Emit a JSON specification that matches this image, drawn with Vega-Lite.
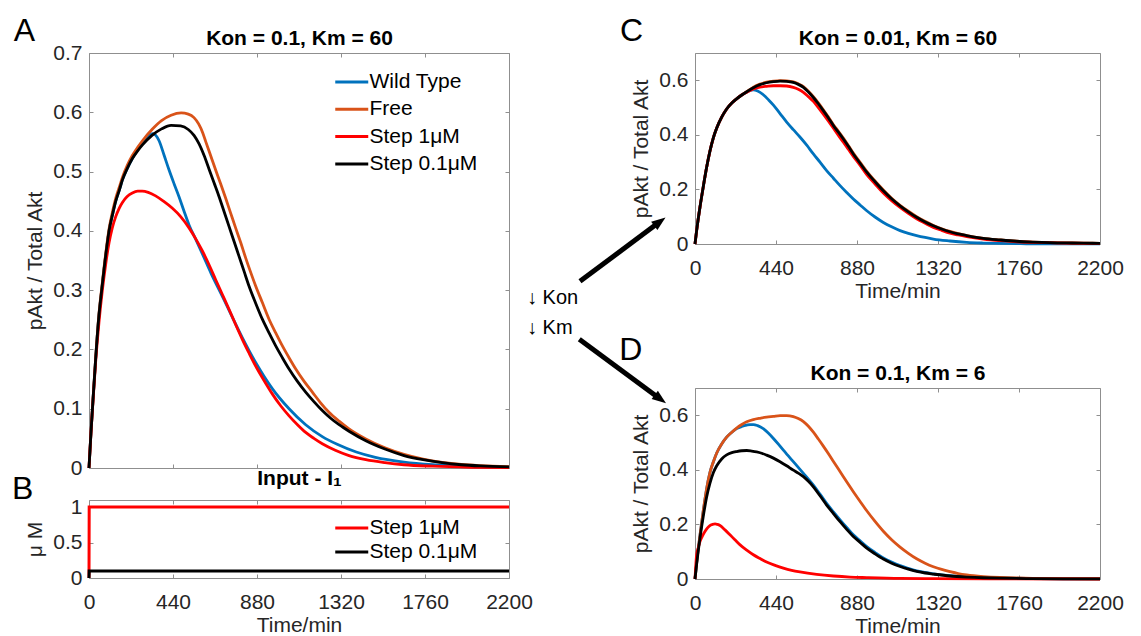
{
"$schema": "https://vega.github.io/schema/vega-lite/v6.json",
"background": "white",
"padding": {"left": 11, "top": 14, "right": 0, "bottom": 0},
"datasets": {
"A": [
{"s":"Wild Type","t":0,"v":0},{"s":"Wild Type","t":10,"v":0.058},{"s":"Wild Type","t":20,"v":0.11},{"s":"Wild Type","t":35,"v":0.185},{"s":"Wild Type","t":50,"v":0.25},{"s":"Wild Type","t":70,"v":0.31},{"s":"Wild Type","t":90,"v":0.365},{"s":"Wild Type","t":105,"v":0.4},{"s":"Wild Type","t":125,"v":0.43},{"s":"Wild Type","t":140,"v":0.45},{"s":"Wild Type","t":160,"v":0.47},{"s":"Wild Type","t":175,"v":0.486},{"s":"Wild Type","t":200,"v":0.505},{"s":"Wild Type","t":227,"v":0.522},{"s":"Wild Type","t":255,"v":0.537},{"s":"Wild Type","t":280,"v":0.548},{"s":"Wild Type","t":300,"v":0.556},{"s":"Wild Type","t":320,"v":0.562},{"s":"Wild Type","t":335,"v":0.564},{"s":"Wild Type","t":350,"v":0.561},{"s":"Wild Type","t":367,"v":0.552},{"s":"Wild Type","t":393,"v":0.528},{"s":"Wild Type","t":419,"v":0.503},{"s":"Wild Type","t":445,"v":0.48},{"s":"Wild Type","t":471,"v":0.458},{"s":"Wild Type","t":497,"v":0.434},{"s":"Wild Type","t":524,"v":0.41},{"s":"Wild Type","t":560,"v":0.385},{"s":"Wild Type","t":594,"v":0.361},{"s":"Wild Type","t":640,"v":0.328},{"s":"Wild Type","t":698,"v":0.29},{"s":"Wild Type","t":750,"v":0.255},{"s":"Wild Type","t":803,"v":0.22},{"s":"Wild Type","t":873,"v":0.178},{"s":"Wild Type","t":960,"v":0.134},{"s":"Wild Type","t":1048,"v":0.1},{"s":"Wild Type","t":1135,"v":0.073},{"s":"Wild Type","t":1222,"v":0.053},{"s":"Wild Type","t":1300,"v":0.04},{"s":"Wild Type","t":1400,"v":0.027},{"s":"Wild Type","t":1500,"v":0.018},{"s":"Wild Type","t":1650,"v":0.01},{"s":"Wild Type","t":1800,"v":0.0055},{"s":"Wild Type","t":2000,"v":0.0025},{"s":"Wild Type","t":2200,"v":0.001},
{"s":"Free","t":0,"v":0},{"s":"Free","t":10,"v":0.058},{"s":"Free","t":20,"v":0.11},{"s":"Free","t":35,"v":0.186},{"s":"Free","t":50,"v":0.252},{"s":"Free","t":70,"v":0.313},{"s":"Free","t":90,"v":0.368},{"s":"Free","t":105,"v":0.403},{"s":"Free","t":125,"v":0.435},{"s":"Free","t":140,"v":0.455},{"s":"Free","t":160,"v":0.475},{"s":"Free","t":175,"v":0.49},{"s":"Free","t":200,"v":0.51},{"s":"Free","t":227,"v":0.527},{"s":"Free","t":255,"v":0.541},{"s":"Free","t":280,"v":0.552},{"s":"Free","t":330,"v":0.571},{"s":"Free","t":380,"v":0.586},{"s":"Free","t":430,"v":0.595},{"s":"Free","t":483,"v":0.599},{"s":"Free","t":520,"v":0.597},{"s":"Free","t":550,"v":0.591},{"s":"Free","t":575,"v":0.58},{"s":"Free","t":595,"v":0.566},{"s":"Free","t":611,"v":0.551},{"s":"Free","t":637,"v":0.527},{"s":"Free","t":663,"v":0.503},{"s":"Free","t":690,"v":0.479},{"s":"Free","t":716,"v":0.455},{"s":"Free","t":742,"v":0.43},{"s":"Free","t":768,"v":0.405},{"s":"Free","t":795,"v":0.38},{"s":"Free","t":821,"v":0.354},{"s":"Free","t":847,"v":0.33},{"s":"Free","t":873,"v":0.307},{"s":"Free","t":908,"v":0.279},{"s":"Free","t":943,"v":0.251},{"s":"Free","t":978,"v":0.228},{"s":"Free","t":1013,"v":0.206},{"s":"Free","t":1048,"v":0.186},{"s":"Free","t":1083,"v":0.167},{"s":"Free","t":1125,"v":0.147},{"s":"Free","t":1170,"v":0.128},{"s":"Free","t":1213,"v":0.11},{"s":"Free","t":1257,"v":0.094},{"s":"Free","t":1310,"v":0.079},{"s":"Free","t":1362,"v":0.066},{"s":"Free","t":1450,"v":0.049},{"s":"Free","t":1550,"v":0.034},{"s":"Free","t":1650,"v":0.023},{"s":"Free","t":1750,"v":0.015},{"s":"Free","t":1850,"v":0.0095},{"s":"Free","t":1950,"v":0.006},{"s":"Free","t":2050,"v":0.004},{"s":"Free","t":2200,"v":0.0022},
{"s":"Step 1μM","t":0,"v":0},{"s":"Step 1μM","t":10,"v":0.058},{"s":"Step 1μM","t":20,"v":0.108},{"s":"Step 1μM","t":35,"v":0.18},{"s":"Step 1μM","t":52,"v":0.245},{"s":"Step 1μM","t":70,"v":0.3},{"s":"Step 1μM","t":88,"v":0.345},{"s":"Step 1μM","t":105,"v":0.38},{"s":"Step 1μM","t":122,"v":0.405},{"s":"Step 1μM","t":140,"v":0.424},{"s":"Step 1μM","t":158,"v":0.438},{"s":"Step 1μM","t":175,"v":0.448},{"s":"Step 1μM","t":200,"v":0.458},{"s":"Step 1μM","t":227,"v":0.464},{"s":"Step 1μM","t":255,"v":0.467},{"s":"Step 1μM","t":279,"v":0.467},{"s":"Step 1μM","t":310,"v":0.465},{"s":"Step 1μM","t":349,"v":0.459},{"s":"Step 1μM","t":390,"v":0.45},{"s":"Step 1μM","t":437,"v":0.438},{"s":"Step 1μM","t":480,"v":0.424},{"s":"Step 1μM","t":524,"v":0.405},{"s":"Step 1μM","t":560,"v":0.386},{"s":"Step 1μM","t":594,"v":0.366},{"s":"Step 1μM","t":630,"v":0.342},{"s":"Step 1μM","t":663,"v":0.318},{"s":"Step 1μM","t":698,"v":0.293},{"s":"Step 1μM","t":733,"v":0.268},{"s":"Step 1μM","t":768,"v":0.242},{"s":"Step 1μM","t":803,"v":0.217},{"s":"Step 1μM","t":838,"v":0.194},{"s":"Step 1μM","t":873,"v":0.172},{"s":"Step 1μM","t":916,"v":0.148},{"s":"Step 1μM","t":960,"v":0.125},{"s":"Step 1μM","t":1004,"v":0.105},{"s":"Step 1μM","t":1048,"v":0.088},{"s":"Step 1μM","t":1092,"v":0.073},{"s":"Step 1μM","t":1135,"v":0.06},{"s":"Step 1μM","t":1178,"v":0.05},{"s":"Step 1μM","t":1222,"v":0.041},{"s":"Step 1μM","t":1290,"v":0.03},{"s":"Step 1μM","t":1362,"v":0.021},{"s":"Step 1μM","t":1450,"v":0.014},{"s":"Step 1μM","t":1550,"v":0.009},{"s":"Step 1μM","t":1650,"v":0.0055},{"s":"Step 1μM","t":1800,"v":0.003},{"s":"Step 1μM","t":2000,"v":0.0012},{"s":"Step 1μM","t":2200,"v":0.0005},
{"s":"Step 0.1μM","t":0,"v":0},{"s":"Step 0.1μM","t":10,"v":0.058},{"s":"Step 0.1μM","t":20,"v":0.11},{"s":"Step 0.1μM","t":35,"v":0.185},{"s":"Step 0.1μM","t":50,"v":0.25},{"s":"Step 0.1μM","t":70,"v":0.31},{"s":"Step 0.1μM","t":90,"v":0.365},{"s":"Step 0.1μM","t":105,"v":0.4},{"s":"Step 0.1μM","t":125,"v":0.43},{"s":"Step 0.1μM","t":140,"v":0.45},{"s":"Step 0.1μM","t":160,"v":0.47},{"s":"Step 0.1μM","t":175,"v":0.486},{"s":"Step 0.1μM","t":200,"v":0.505},{"s":"Step 0.1μM","t":227,"v":0.522},{"s":"Step 0.1μM","t":255,"v":0.535},{"s":"Step 0.1μM","t":280,"v":0.545},{"s":"Step 0.1μM","t":330,"v":0.561},{"s":"Step 0.1μM","t":380,"v":0.572},{"s":"Step 0.1μM","t":430,"v":0.578},{"s":"Step 0.1μM","t":480,"v":0.577},{"s":"Step 0.1μM","t":520,"v":0.571},{"s":"Step 0.1μM","t":550,"v":0.561},{"s":"Step 0.1μM","t":576,"v":0.547},{"s":"Step 0.1μM","t":603,"v":0.527},{"s":"Step 0.1μM","t":629,"v":0.504},{"s":"Step 0.1μM","t":655,"v":0.481},{"s":"Step 0.1μM","t":681,"v":0.458},{"s":"Step 0.1μM","t":707,"v":0.433},{"s":"Step 0.1μM","t":733,"v":0.408},{"s":"Step 0.1μM","t":760,"v":0.382},{"s":"Step 0.1μM","t":786,"v":0.357},{"s":"Step 0.1μM","t":812,"v":0.332},{"s":"Step 0.1μM","t":838,"v":0.307},{"s":"Step 0.1μM","t":873,"v":0.278},{"s":"Step 0.1μM","t":908,"v":0.251},{"s":"Step 0.1μM","t":943,"v":0.228},{"s":"Step 0.1μM","t":978,"v":0.206},{"s":"Step 0.1μM","t":1013,"v":0.186},{"s":"Step 0.1μM","t":1048,"v":0.167},{"s":"Step 0.1μM","t":1090,"v":0.147},{"s":"Step 0.1μM","t":1135,"v":0.128},{"s":"Step 0.1μM","t":1178,"v":0.112},{"s":"Step 0.1μM","t":1222,"v":0.097},{"s":"Step 0.1μM","t":1266,"v":0.084},{"s":"Step 0.1μM","t":1310,"v":0.073},{"s":"Step 0.1μM","t":1362,"v":0.062},{"s":"Step 0.1μM","t":1450,"v":0.046},{"s":"Step 0.1μM","t":1550,"v":0.032},{"s":"Step 0.1μM","t":1650,"v":0.021},{"s":"Step 0.1μM","t":1750,"v":0.014},{"s":"Step 0.1μM","t":1850,"v":0.009},{"s":"Step 0.1μM","t":1950,"v":0.0055},{"s":"Step 0.1μM","t":2050,"v":0.0035},{"s":"Step 0.1μM","t":2200,"v":0.002}
],
"B": [
{"s":"Step 1μM","t":0,"v":0},{"s":"Step 1μM","t":1,"v":1},{"s":"Step 1μM","t":2200,"v":1},
{"s":"Step 0.1μM","t":0,"v":0},{"s":"Step 0.1μM","t":1,"v":0.1},{"s":"Step 0.1μM","t":2200,"v":0.1}
],
"C": [
{"s":"Wild Type","t":0,"v":0},{"s":"Wild Type","t":9,"v":0.05},{"s":"Wild Type","t":27,"v":0.135},{"s":"Wild Type","t":45,"v":0.21},{"s":"Wild Type","t":63,"v":0.28},{"s":"Wild Type","t":81,"v":0.34},{"s":"Wild Type","t":100,"v":0.39},{"s":"Wild Type","t":118,"v":0.425},{"s":"Wild Type","t":145,"v":0.465},{"s":"Wild Type","t":172,"v":0.495},{"s":"Wild Type","t":200,"v":0.517},{"s":"Wild Type","t":226,"v":0.532},{"s":"Wild Type","t":254,"v":0.546},{"s":"Wild Type","t":281,"v":0.557},{"s":"Wild Type","t":300,"v":0.563},{"s":"Wild Type","t":317,"v":0.565},{"s":"Wild Type","t":340,"v":0.561},{"s":"Wild Type","t":371,"v":0.547},{"s":"Wild Type","t":400,"v":0.528},{"s":"Wild Type","t":426,"v":0.509},{"s":"Wild Type","t":462,"v":0.478},{"s":"Wild Type","t":498,"v":0.447},{"s":"Wild Type","t":534,"v":0.419},{"s":"Wild Type","t":570,"v":0.392},{"s":"Wild Type","t":607,"v":0.362},{"s":"Wild Type","t":643,"v":0.33},{"s":"Wild Type","t":679,"v":0.3},{"s":"Wild Type","t":715,"v":0.269},{"s":"Wild Type","t":752,"v":0.241},{"s":"Wild Type","t":788,"v":0.214},{"s":"Wild Type","t":824,"v":0.189},{"s":"Wild Type","t":860,"v":0.165},{"s":"Wild Type","t":897,"v":0.143},{"s":"Wild Type","t":933,"v":0.122},{"s":"Wild Type","t":978,"v":0.099},{"s":"Wild Type","t":1023,"v":0.079},{"s":"Wild Type","t":1068,"v":0.063},{"s":"Wild Type","t":1114,"v":0.049},{"s":"Wild Type","t":1159,"v":0.039},{"s":"Wild Type","t":1204,"v":0.031},{"s":"Wild Type","t":1250,"v":0.024},{"s":"Wild Type","t":1295,"v":0.018},{"s":"Wild Type","t":1385,"v":0.011},{"s":"Wild Type","t":1476,"v":0.006},{"s":"Wild Type","t":1566,"v":0.0035},{"s":"Wild Type","t":1657,"v":0.002},{"s":"Wild Type","t":1800,"v":0.001},{"s":"Wild Type","t":2000,"v":0.0004},{"s":"Wild Type","t":2200,"v":0.0002},
{"s":"Free","t":0,"v":0},{"s":"Free","t":9,"v":0.05},{"s":"Free","t":27,"v":0.135},{"s":"Free","t":45,"v":0.21},{"s":"Free","t":63,"v":0.28},{"s":"Free","t":81,"v":0.34},{"s":"Free","t":100,"v":0.39},{"s":"Free","t":118,"v":0.425},{"s":"Free","t":145,"v":0.465},{"s":"Free","t":172,"v":0.495},{"s":"Free","t":200,"v":0.517},{"s":"Free","t":226,"v":0.532},{"s":"Free","t":254,"v":0.546},{"s":"Free","t":281,"v":0.558},{"s":"Free","t":317,"v":0.575},{"s":"Free","t":353,"v":0.586},{"s":"Free","t":389,"v":0.593},{"s":"Free","t":426,"v":0.597},{"s":"Free","t":462,"v":0.599},{"s":"Free","t":498,"v":0.598},{"s":"Free","t":534,"v":0.594},{"s":"Free","t":561,"v":0.587},{"s":"Free","t":589,"v":0.577},{"s":"Free","t":616,"v":0.56},{"s":"Free","t":643,"v":0.54},{"s":"Free","t":670,"v":0.517},{"s":"Free","t":697,"v":0.492},{"s":"Free","t":725,"v":0.465},{"s":"Free","t":752,"v":0.437},{"s":"Free","t":779,"v":0.413},{"s":"Free","t":806,"v":0.388},{"s":"Free","t":833,"v":0.361},{"s":"Free","t":860,"v":0.333},{"s":"Free","t":897,"v":0.299},{"s":"Free","t":933,"v":0.266},{"s":"Free","t":978,"v":0.231},{"s":"Free","t":1023,"v":0.198},{"s":"Free","t":1068,"v":0.168},{"s":"Free","t":1114,"v":0.142},{"s":"Free","t":1159,"v":0.12},{"s":"Free","t":1204,"v":0.1},{"s":"Free","t":1250,"v":0.083},{"s":"Free","t":1295,"v":0.068},{"s":"Free","t":1340,"v":0.056},{"s":"Free","t":1385,"v":0.046},{"s":"Free","t":1430,"v":0.038},{"s":"Free","t":1476,"v":0.031},{"s":"Free","t":1566,"v":0.021},{"s":"Free","t":1657,"v":0.015},{"s":"Free","t":1747,"v":0.01},{"s":"Free","t":1838,"v":0.007},{"s":"Free","t":1928,"v":0.005},{"s":"Free","t":2019,"v":0.004},{"s":"Free","t":2110,"v":0.003},{"s":"Free","t":2200,"v":0.0025},
{"s":"Step 1μM","t":0,"v":0},{"s":"Step 1μM","t":9,"v":0.05},{"s":"Step 1μM","t":27,"v":0.135},{"s":"Step 1μM","t":45,"v":0.21},{"s":"Step 1μM","t":63,"v":0.28},{"s":"Step 1μM","t":81,"v":0.34},{"s":"Step 1μM","t":100,"v":0.39},{"s":"Step 1μM","t":118,"v":0.425},{"s":"Step 1μM","t":145,"v":0.465},{"s":"Step 1μM","t":172,"v":0.495},{"s":"Step 1μM","t":200,"v":0.517},{"s":"Step 1μM","t":226,"v":0.532},{"s":"Step 1μM","t":254,"v":0.546},{"s":"Step 1μM","t":281,"v":0.556},{"s":"Step 1μM","t":317,"v":0.568},{"s":"Step 1μM","t":353,"v":0.575},{"s":"Step 1μM","t":389,"v":0.578},{"s":"Step 1μM","t":426,"v":0.58},{"s":"Step 1μM","t":462,"v":0.58},{"s":"Step 1μM","t":498,"v":0.579},{"s":"Step 1μM","t":534,"v":0.574},{"s":"Step 1μM","t":561,"v":0.567},{"s":"Step 1μM","t":589,"v":0.556},{"s":"Step 1μM","t":616,"v":0.54},{"s":"Step 1μM","t":643,"v":0.523},{"s":"Step 1μM","t":670,"v":0.5},{"s":"Step 1μM","t":697,"v":0.476},{"s":"Step 1μM","t":725,"v":0.45},{"s":"Step 1μM","t":752,"v":0.424},{"s":"Step 1μM","t":779,"v":0.398},{"s":"Step 1μM","t":806,"v":0.373},{"s":"Step 1μM","t":833,"v":0.347},{"s":"Step 1μM","t":860,"v":0.321},{"s":"Step 1μM","t":897,"v":0.288},{"s":"Step 1μM","t":933,"v":0.254},{"s":"Step 1μM","t":978,"v":0.22},{"s":"Step 1μM","t":1023,"v":0.187},{"s":"Step 1μM","t":1068,"v":0.159},{"s":"Step 1μM","t":1114,"v":0.134},{"s":"Step 1μM","t":1159,"v":0.112},{"s":"Step 1μM","t":1204,"v":0.092},{"s":"Step 1μM","t":1250,"v":0.076},{"s":"Step 1μM","t":1295,"v":0.061},{"s":"Step 1μM","t":1340,"v":0.05},{"s":"Step 1μM","t":1385,"v":0.04},{"s":"Step 1μM","t":1430,"v":0.033},{"s":"Step 1μM","t":1476,"v":0.027},{"s":"Step 1μM","t":1566,"v":0.018},{"s":"Step 1μM","t":1657,"v":0.012},{"s":"Step 1μM","t":1747,"v":0.008},{"s":"Step 1μM","t":1838,"v":0.006},{"s":"Step 1μM","t":2019,"v":0.003},{"s":"Step 1μM","t":2200,"v":0.0015},
{"s":"Step 0.1μM","t":0,"v":0},{"s":"Step 0.1μM","t":9,"v":0.05},{"s":"Step 0.1μM","t":27,"v":0.135},{"s":"Step 0.1μM","t":45,"v":0.21},{"s":"Step 0.1μM","t":63,"v":0.28},{"s":"Step 0.1μM","t":81,"v":0.34},{"s":"Step 0.1μM","t":100,"v":0.39},{"s":"Step 0.1μM","t":118,"v":0.425},{"s":"Step 0.1μM","t":145,"v":0.465},{"s":"Step 0.1μM","t":172,"v":0.495},{"s":"Step 0.1μM","t":200,"v":0.517},{"s":"Step 0.1μM","t":226,"v":0.532},{"s":"Step 0.1μM","t":254,"v":0.546},{"s":"Step 0.1μM","t":281,"v":0.558},{"s":"Step 0.1μM","t":317,"v":0.573},{"s":"Step 0.1μM","t":353,"v":0.584},{"s":"Step 0.1μM","t":389,"v":0.591},{"s":"Step 0.1μM","t":426,"v":0.595},{"s":"Step 0.1μM","t":462,"v":0.597},{"s":"Step 0.1μM","t":498,"v":0.596},{"s":"Step 0.1μM","t":534,"v":0.592},{"s":"Step 0.1μM","t":561,"v":0.585},{"s":"Step 0.1μM","t":589,"v":0.574},{"s":"Step 0.1μM","t":616,"v":0.557},{"s":"Step 0.1μM","t":643,"v":0.537},{"s":"Step 0.1μM","t":670,"v":0.514},{"s":"Step 0.1μM","t":697,"v":0.489},{"s":"Step 0.1μM","t":725,"v":0.462},{"s":"Step 0.1μM","t":752,"v":0.434},{"s":"Step 0.1μM","t":779,"v":0.41},{"s":"Step 0.1μM","t":806,"v":0.385},{"s":"Step 0.1μM","t":833,"v":0.358},{"s":"Step 0.1μM","t":860,"v":0.33},{"s":"Step 0.1μM","t":897,"v":0.296},{"s":"Step 0.1μM","t":933,"v":0.263},{"s":"Step 0.1μM","t":978,"v":0.228},{"s":"Step 0.1μM","t":1023,"v":0.195},{"s":"Step 0.1μM","t":1068,"v":0.166},{"s":"Step 0.1μM","t":1114,"v":0.14},{"s":"Step 0.1μM","t":1159,"v":0.118},{"s":"Step 0.1μM","t":1204,"v":0.098},{"s":"Step 0.1μM","t":1250,"v":0.081},{"s":"Step 0.1μM","t":1295,"v":0.067},{"s":"Step 0.1μM","t":1340,"v":0.055},{"s":"Step 0.1μM","t":1385,"v":0.045},{"s":"Step 0.1μM","t":1430,"v":0.037},{"s":"Step 0.1μM","t":1476,"v":0.031},{"s":"Step 0.1μM","t":1566,"v":0.021},{"s":"Step 0.1μM","t":1657,"v":0.015},{"s":"Step 0.1μM","t":1747,"v":0.01},{"s":"Step 0.1μM","t":1838,"v":0.007},{"s":"Step 0.1μM","t":1928,"v":0.005},{"s":"Step 0.1μM","t":2019,"v":0.004},{"s":"Step 0.1μM","t":2110,"v":0.003},{"s":"Step 0.1μM","t":2200,"v":0.0025}
],
"D": [
{"s":"Wild Type","t":0,"v":0},{"s":"Wild Type","t":9,"v":0.06},{"s":"Wild Type","t":27,"v":0.16},{"s":"Wild Type","t":45,"v":0.25},{"s":"Wild Type","t":63,"v":0.33},{"s":"Wild Type","t":81,"v":0.39},{"s":"Wild Type","t":100,"v":0.43},{"s":"Wild Type","t":118,"v":0.462},{"s":"Wild Type","t":145,"v":0.495},{"s":"Wild Type","t":172,"v":0.52},{"s":"Wild Type","t":200,"v":0.538},{"s":"Wild Type","t":226,"v":0.551},{"s":"Wild Type","t":254,"v":0.559},{"s":"Wild Type","t":281,"v":0.564},{"s":"Wild Type","t":300,"v":0.566},{"s":"Wild Type","t":317,"v":0.566},{"s":"Wild Type","t":340,"v":0.562},{"s":"Wild Type","t":371,"v":0.551},{"s":"Wild Type","t":398,"v":0.535},{"s":"Wild Type","t":426,"v":0.515},{"s":"Wild Type","t":453,"v":0.494},{"s":"Wild Type","t":480,"v":0.472},{"s":"Wild Type","t":507,"v":0.451},{"s":"Wild Type","t":534,"v":0.43},{"s":"Wild Type","t":561,"v":0.409},{"s":"Wild Type","t":589,"v":0.387},{"s":"Wild Type","t":616,"v":0.366},{"s":"Wild Type","t":643,"v":0.344},{"s":"Wild Type","t":679,"v":0.311},{"s":"Wild Type","t":715,"v":0.277},{"s":"Wild Type","t":752,"v":0.246},{"s":"Wild Type","t":788,"v":0.217},{"s":"Wild Type","t":824,"v":0.189},{"s":"Wild Type","t":860,"v":0.162},{"s":"Wild Type","t":897,"v":0.14},{"s":"Wild Type","t":933,"v":0.119},{"s":"Wild Type","t":978,"v":0.097},{"s":"Wild Type","t":1023,"v":0.077},{"s":"Wild Type","t":1068,"v":0.062},{"s":"Wild Type","t":1114,"v":0.049},{"s":"Wild Type","t":1159,"v":0.039},{"s":"Wild Type","t":1204,"v":0.03},{"s":"Wild Type","t":1250,"v":0.024},{"s":"Wild Type","t":1295,"v":0.019},{"s":"Wild Type","t":1385,"v":0.012},{"s":"Wild Type","t":1476,"v":0.0085},{"s":"Wild Type","t":1566,"v":0.006},{"s":"Wild Type","t":1657,"v":0.004},{"s":"Wild Type","t":1800,"v":0.002},{"s":"Wild Type","t":2000,"v":0.001},{"s":"Wild Type","t":2200,"v":0.0005},
{"s":"Free","t":0,"v":0},{"s":"Free","t":9,"v":0.06},{"s":"Free","t":27,"v":0.16},{"s":"Free","t":45,"v":0.25},{"s":"Free","t":63,"v":0.33},{"s":"Free","t":81,"v":0.39},{"s":"Free","t":100,"v":0.43},{"s":"Free","t":118,"v":0.462},{"s":"Free","t":145,"v":0.495},{"s":"Free","t":172,"v":0.52},{"s":"Free","t":200,"v":0.538},{"s":"Free","t":226,"v":0.553},{"s":"Free","t":254,"v":0.566},{"s":"Free","t":281,"v":0.576},{"s":"Free","t":317,"v":0.584},{"s":"Free","t":353,"v":0.589},{"s":"Free","t":389,"v":0.593},{"s":"Free","t":426,"v":0.596},{"s":"Free","t":462,"v":0.599},{"s":"Free","t":498,"v":0.599},{"s":"Free","t":534,"v":0.595},{"s":"Free","t":561,"v":0.588},{"s":"Free","t":589,"v":0.577},{"s":"Free","t":616,"v":0.56},{"s":"Free","t":643,"v":0.538},{"s":"Free","t":670,"v":0.513},{"s":"Free","t":697,"v":0.487},{"s":"Free","t":725,"v":0.459},{"s":"Free","t":752,"v":0.431},{"s":"Free","t":779,"v":0.403},{"s":"Free","t":806,"v":0.375},{"s":"Free","t":833,"v":0.347},{"s":"Free","t":860,"v":0.32},{"s":"Free","t":897,"v":0.284},{"s":"Free","t":933,"v":0.25},{"s":"Free","t":978,"v":0.211},{"s":"Free","t":1023,"v":0.175},{"s":"Free","t":1068,"v":0.144},{"s":"Free","t":1114,"v":0.117},{"s":"Free","t":1159,"v":0.094},{"s":"Free","t":1204,"v":0.074},{"s":"Free","t":1250,"v":0.058},{"s":"Free","t":1295,"v":0.045},{"s":"Free","t":1340,"v":0.035},{"s":"Free","t":1385,"v":0.027},{"s":"Free","t":1430,"v":0.02},{"s":"Free","t":1476,"v":0.015},{"s":"Free","t":1566,"v":0.009},{"s":"Free","t":1657,"v":0.0055},{"s":"Free","t":1747,"v":0.0037},{"s":"Free","t":1838,"v":0.0026},{"s":"Free","t":2019,"v":0.0015},{"s":"Free","t":2200,"v":0.001},
{"s":"Step 1μM","t":0,"v":0},{"s":"Step 1μM","t":9,"v":0.09},{"s":"Step 1μM","t":18,"v":0.115},{"s":"Step 1μM","t":27,"v":0.137},{"s":"Step 1μM","t":40,"v":0.157},{"s":"Step 1μM","t":54,"v":0.174},{"s":"Step 1μM","t":68,"v":0.187},{"s":"Step 1μM","t":81,"v":0.196},{"s":"Step 1μM","t":95,"v":0.2},{"s":"Step 1μM","t":109,"v":0.202},{"s":"Step 1μM","t":122,"v":0.2},{"s":"Step 1μM","t":136,"v":0.196},{"s":"Step 1μM","t":163,"v":0.18},{"s":"Step 1μM","t":190,"v":0.162},{"s":"Step 1μM","t":218,"v":0.143},{"s":"Step 1μM","t":245,"v":0.125},{"s":"Step 1μM","t":281,"v":0.106},{"s":"Step 1μM","t":317,"v":0.089},{"s":"Step 1μM","t":353,"v":0.075},{"s":"Step 1μM","t":389,"v":0.062},{"s":"Step 1μM","t":435,"v":0.05},{"s":"Step 1μM","t":480,"v":0.04},{"s":"Step 1μM","t":525,"v":0.032},{"s":"Step 1μM","t":570,"v":0.026},{"s":"Step 1μM","t":661,"v":0.017},{"s":"Step 1μM","t":752,"v":0.011},{"s":"Step 1μM","t":842,"v":0.007},{"s":"Step 1μM","t":933,"v":0.005},{"s":"Step 1μM","t":1114,"v":0.002},{"s":"Step 1μM","t":1295,"v":0.0012},{"s":"Step 1μM","t":1600,"v":0.0005},{"s":"Step 1μM","t":2200,"v":0},
{"s":"Step 0.1μM","t":0,"v":0},{"s":"Step 0.1μM","t":9,"v":0.055},{"s":"Step 0.1μM","t":27,"v":0.15},{"s":"Step 0.1μM","t":45,"v":0.23},{"s":"Step 0.1μM","t":63,"v":0.3},{"s":"Step 0.1μM","t":81,"v":0.35},{"s":"Step 0.1μM","t":100,"v":0.39},{"s":"Step 0.1μM","t":118,"v":0.415},{"s":"Step 0.1μM","t":145,"v":0.44},{"s":"Step 0.1μM","t":172,"v":0.455},{"s":"Step 0.1μM","t":200,"v":0.463},{"s":"Step 0.1μM","t":226,"v":0.467},{"s":"Step 0.1μM","t":254,"v":0.47},{"s":"Step 0.1μM","t":281,"v":0.471},{"s":"Step 0.1μM","t":308,"v":0.469},{"s":"Step 0.1μM","t":335,"v":0.466},{"s":"Step 0.1μM","t":362,"v":0.461},{"s":"Step 0.1μM","t":389,"v":0.454},{"s":"Step 0.1μM","t":426,"v":0.443},{"s":"Step 0.1μM","t":462,"v":0.43},{"s":"Step 0.1μM","t":498,"v":0.415},{"s":"Step 0.1μM","t":534,"v":0.399},{"s":"Step 0.1μM","t":561,"v":0.388},{"s":"Step 0.1μM","t":589,"v":0.375},{"s":"Step 0.1μM","t":616,"v":0.358},{"s":"Step 0.1μM","t":643,"v":0.338},{"s":"Step 0.1μM","t":679,"v":0.305},{"s":"Step 0.1μM","t":715,"v":0.271},{"s":"Step 0.1μM","t":752,"v":0.24},{"s":"Step 0.1μM","t":788,"v":0.21},{"s":"Step 0.1μM","t":824,"v":0.182},{"s":"Step 0.1μM","t":860,"v":0.156},{"s":"Step 0.1μM","t":897,"v":0.134},{"s":"Step 0.1μM","t":933,"v":0.113},{"s":"Step 0.1μM","t":978,"v":0.092},{"s":"Step 0.1μM","t":1023,"v":0.073},{"s":"Step 0.1μM","t":1068,"v":0.058},{"s":"Step 0.1μM","t":1114,"v":0.046},{"s":"Step 0.1μM","t":1159,"v":0.036},{"s":"Step 0.1μM","t":1204,"v":0.028},{"s":"Step 0.1μM","t":1250,"v":0.022},{"s":"Step 0.1μM","t":1295,"v":0.018},{"s":"Step 0.1μM","t":1385,"v":0.011},{"s":"Step 0.1μM","t":1476,"v":0.007},{"s":"Step 0.1μM","t":1566,"v":0.0045},{"s":"Step 0.1μM","t":1657,"v":0.003},{"s":"Step 0.1μM","t":1800,"v":0.0015},{"s":"Step 0.1μM","t":2000,"v":0.0007},{"s":"Step 0.1μM","t":2200,"v":0.0004}
]
},
"hconcat": [
{
"vconcat": [
{
"width": 420, "height": 415,
"data": {"name": "A"},
"layer": [
{"mark": {"type": "line", "strokeWidth": 2.8, "interpolate": "monotone"},
 "encoding": {
  "x": {"field": "t", "type": "quantitative", "scale": {"domain": [0, 2200], "nice": false, "zero": false}, "axis": {"orient": "bottom", "values": [0, 440, 880, 1320, 1760, 2200], "labels": false, "title": null}},
  "y": {"field": "v", "type": "quantitative", "scale": {"domain": [0, 0.7], "nice": false, "zero": false}, "axis": {"orient": "left", "values": [0, 0.1, 0.2, 0.3, 0.4, 0.5, 0.6, 0.7], "format": "~g", "labelPadding": 11, "title": "pAkt / Total Akt", "titlePadding": 7}},
  "color": {"field": "s", "type": "nominal", "scale": {"domain": ["Wild Type", "Free", "Step 1μM", "Step 0.1μM"], "range": ["#0072BD", "#D95319", "#FF0000", "#000000"]},
   "legend": {"orient": "none", "legendX": 244, "legendY": 18.5, "title": null, "symbolType": "M-1,0H3", "symbolSize": 272, "symbolStrokeWidth": 3, "labelOffset": 15.5, "rowPadding": 5.3, "labelFontSize": 21, "labelFont": "Liberation Sans", "labelColor": "#000", "padding": 0}}
 }},
{"mark": {"type": "point", "opacity": 0},
 "encoding": {
  "x": {"field": "t", "type": "quantitative", "scale": {"domain": [0, 2200], "nice": false, "zero": false}, "axis": {"orient": "top", "values": [0, 440, 880, 1320, 1760, 2200], "labels": false, "title": "Kon = 0.1, Km = 60", "titleFontWeight": "bold", "titleColor": "#000", "titleBaseline": "alphabetic", "titlePadding": 8}},
  "y": {"field": "v", "type": "quantitative", "scale": {"domain": [0, 0.7], "nice": false, "zero": false}, "axis": {"orient": "right", "values": [0, 0.1, 0.2, 0.3, 0.4, 0.5, 0.6, 0.7], "labels": false, "title": null}}
 }},
{"data": {"values": [{}]},
 "mark": {"type": "text", "text": "A", "fontSize": 32, "align": "left", "baseline": "alphabetic", "color": "#000", "font": "Liberation Sans"},
 "encoding": {"x": {"datum": -394.4, "type": "quantitative", "axis": null}, "y": {"datum": 0.7202, "type": "quantitative", "axis": null}}}
],
"resolve": {"axis": {"x": "independent", "y": "independent"}}
},
{
"width": 420, "height": 78,
"data": {"name": "B"},
"layer": [
{"mark": {"type": "line", "strokeWidth": 3},
 "encoding": {
  "x": {"field": "t", "type": "quantitative", "scale": {"domain": [0, 2200], "nice": false, "zero": false}, "axis": {"orient": "bottom", "values": [0, 440, 880, 1320, 1760, 2200], "format": "d", "title": "Time/min"}},
  "y": {"field": "v", "type": "quantitative", "scale": {"domain": [0, 1.1], "nice": false, "zero": false}, "axis": {"orient": "left", "values": [0, 0.5, 1], "format": "~g", "labelPadding": 11, "title": "μ M", "titlePadding": 7}},
  "color": {"field": "s", "type": "nominal", "scale": {"domain": ["Step 1μM", "Step 0.1μM"], "range": ["#FF0000", "#000000"]},
   "legend": {"orient": "none", "legendX": 244, "legendY": 17.5, "title": null, "symbolType": "M-1,0H3", "symbolSize": 272, "symbolStrokeWidth": 3, "labelOffset": 15.5, "rowPadding": 2, "labelFontSize": 21, "labelFont": "Liberation Sans", "labelColor": "#000", "padding": 0}}
 }},
{"mark": {"type": "point", "opacity": 0},
 "encoding": {
  "x": {"field": "t", "type": "quantitative", "scale": {"domain": [0, 2200], "nice": false, "zero": false}, "axis": {"orient": "top", "values": [0, 440, 880, 1320, 1760, 2200], "labels": false, "title": "Input - I₁", "titleFontWeight": "bold", "titleColor": "#000", "titleBaseline": "alphabetic", "titlePadding": 15.5}},
  "y": {"field": "v", "type": "quantitative", "scale": {"domain": [0, 1.1], "nice": false, "zero": false}, "axis": {"orient": "right", "values": [0, 0.5, 1], "labels": false, "title": null}}
 }},
{"data": {"values": [{}]},
 "mark": {"type": "text", "text": "B", "fontSize": 32, "align": "left", "baseline": "alphabetic", "color": "#000", "font": "Liberation Sans"},
 "encoding": {"x": {"datum": -403.3, "type": "quantitative", "axis": null}, "y": {"datum": 1.1071, "type": "quantitative", "axis": null}}}
],
"resolve": {"axis": {"x": "independent", "y": "independent"}}
}
],
"spacing": -13,
"resolve": {"scale": {"color": "independent"}, "legend": {"color": "independent"}}
},
{
"vconcat": [
{
"width": 405, "height": 191,
"data": {"name": "C"},
"layer": [
{"mark": {"type": "line", "strokeWidth": 2.8, "interpolate": "monotone"},
 "encoding": {
  "x": {"field": "t", "type": "quantitative", "scale": {"domain": [0, 2200], "nice": false, "zero": false}, "axis": {"orient": "bottom", "values": [0, 440, 880, 1320, 1760, 2200], "format": "d", "title": "Time/min"}},
  "y": {"field": "v", "type": "quantitative", "scale": {"domain": [0, 0.7], "nice": false, "zero": false}, "axis": {"orient": "left", "values": [0, 0.2, 0.4, 0.6], "format": "~g", "labelPadding": 11, "title": "pAkt / Total Akt", "titlePadding": 7}},
  "color": {"field": "s", "type": "nominal", "scale": {"domain": ["Wild Type", "Free", "Step 1μM", "Step 0.1μM"], "range": ["#0072BD", "#D95319", "#FF0000", "#000000"]}, "legend": null}
 }},
{"mark": {"type": "point", "opacity": 0},
 "encoding": {
  "x": {"field": "t", "type": "quantitative", "scale": {"domain": [0, 2200], "nice": false, "zero": false}, "axis": {"orient": "top", "values": [0, 440, 880, 1320, 1760, 2200], "labels": false, "title": "Kon = 0.01, Km = 60", "titleFontWeight": "bold", "titleColor": "#000", "titleBaseline": "alphabetic", "titlePadding": 7.7}},
  "y": {"field": "v", "type": "quantitative", "scale": {"domain": [0, 0.7], "nice": false, "zero": false}, "axis": {"orient": "right", "values": [0, 0.2, 0.4, 0.6], "labels": false, "title": null}}
 }},
{"data": {"values": [{}]},
 "mark": {"type": "text", "text": "C", "fontSize": 32, "align": "left", "baseline": "alphabetic", "color": "#000", "font": "Liberation Sans"},
 "encoding": {"x": {"datum": -406.9, "type": "quantitative", "axis": null}, "y": {"datum": 0.744, "type": "quantitative", "axis": null}}},
{"data": {"values": [{}]},
 "mark": {"type": "text", "text": "↓ Kon", "fontSize": 20, "align": "left", "baseline": "alphabetic", "color": "#000", "font": "Liberation Sans"},
 "encoding": {"x": {"datum": -912.6, "type": "quantitative", "axis": null}, "y": {"datum": -0.2199, "type": "quantitative", "axis": null}}},
{"data": {"values": [{}]},
 "mark": {"type": "rule", "strokeWidth": 5, "color": "#000"},
 "encoding": {"x": {"datum": -624.7, "type": "quantitative", "axis": null}, "y": {"datum": -0.1367, "type": "quantitative", "axis": null}, "x2": {"datum": -208.0}, "y2": {"datum": 0.0729}}},
{"data": {"values": [{}]},
 "mark": {"type": "point", "shape": "M0,-1L0.75,1L-0.75,1Z", "filled": true, "color": "#000", "opacity": 1, "size": 196, "angle": 53.3},
 "encoding": {"x": {"datum": -190.7, "type": "quantitative", "axis": null}, "y": {"datum": 0.0817, "type": "quantitative", "axis": null}}}
],
"resolve": {"axis": {"x": "independent", "y": "independent"}}
},
{
"width": 405, "height": 191,
"data": {"name": "D"},
"layer": [
{"mark": {"type": "line", "strokeWidth": 2.8, "interpolate": "monotone"},
 "encoding": {
  "x": {"field": "t", "type": "quantitative", "scale": {"domain": [0, 2200], "nice": false, "zero": false}, "axis": {"orient": "bottom", "values": [0, 440, 880, 1320, 1760, 2200], "format": "d", "title": "Time/min"}},
  "y": {"field": "v", "type": "quantitative", "scale": {"domain": [0, 0.7], "nice": false, "zero": false}, "axis": {"orient": "left", "values": [0, 0.2, 0.4, 0.6], "format": "~g", "labelPadding": 11, "title": "pAkt / Total Akt", "titlePadding": 7}},
  "color": {"field": "s", "type": "nominal", "scale": {"domain": ["Wild Type", "Free", "Step 1μM", "Step 0.1μM"], "range": ["#0072BD", "#D95319", "#FF0000", "#000000"]}, "legend": null}
 }},
{"mark": {"type": "point", "opacity": 0},
 "encoding": {
  "x": {"field": "t", "type": "quantitative", "scale": {"domain": [0, 2200], "nice": false, "zero": false}, "axis": {"orient": "top", "values": [0, 440, 880, 1320, 1760, 2200], "labels": false, "title": "Kon = 0.1, Km = 6", "titleFontWeight": "bold", "titleColor": "#000", "titleBaseline": "alphabetic", "titlePadding": 7.7}},
  "y": {"field": "v", "type": "quantitative", "scale": {"domain": [0, 0.7], "nice": false, "zero": false}, "axis": {"orient": "right", "values": [0, 0.2, 0.4, 0.6], "labels": false, "title": null}}
 }},
{"data": {"values": [{}]},
 "mark": {"type": "text", "text": "D", "fontSize": 32, "align": "left", "baseline": "alphabetic", "color": "#000", "font": "Liberation Sans"},
 "encoding": {"x": {"datum": -411.8, "type": "quantitative", "axis": null}, "y": {"datum": 0.8026, "type": "quantitative", "axis": null}}},
{"data": {"values": [{}]},
 "mark": {"type": "text", "text": "↓ Km", "fontSize": 20, "align": "left", "baseline": "alphabetic", "color": "#000", "font": "Liberation Sans"},
 "encoding": {"x": {"datum": -912.6, "type": "quantitative", "axis": null}, "y": {"datum": 0.8979, "type": "quantitative", "axis": null}}},
{"data": {"values": [{}]},
 "mark": {"type": "rule", "strokeWidth": 5, "color": "#000"},
 "encoding": {"x": {"datum": -628.5, "type": "quantitative", "axis": null}, "y": {"datum": 0.8785, "type": "quantitative", "axis": null}, "x2": {"datum": -205.9}, "y2": {"datum": 0.6681}}},
{"data": {"values": [{}]},
 "mark": {"type": "point", "shape": "M0,-1L0.75,1L-0.75,1Z", "filled": true, "color": "#000", "opacity": 1, "size": 196, "angle": 126.4},
 "encoding": {"x": {"datum": -188.0, "type": "quantitative", "axis": null}, "y": {"datum": 0.6595, "type": "quantitative", "axis": null}}}
],
"resolve": {"axis": {"x": "independent", "y": "independent"}}
}
],
"spacing": 8,
"resolve": {"scale": {"color": "independent"}, "legend": {"color": "independent"}}
}
],
"spacing": -7,
"resolve": {"scale": {"color": "independent"}, "legend": {"color": "independent"}},
"config": {
 "font": "Liberation Sans",
 "view": {"stroke": "#8f8f8f", "strokeWidth": 1},
 "axis": {"labelFont": "Liberation Sans", "labelFontSize": 21, "labelColor": "#262626", "titleFont": "Liberation Sans", "titleFontSize": 21, "titleFontWeight": "normal", "titleColor": "#262626", "domain": false, "grid": false, "ticks": true, "tickColor": "#8f8f8f", "tickSize": -4, "tickWidth": 1, "labelFlush": false, "labelOverlap": false, "minExtent": 0, "labelPadding": 17, "titlePadding": 2.5},
 "legend": {"labelFont": "Liberation Sans"}
}
}
